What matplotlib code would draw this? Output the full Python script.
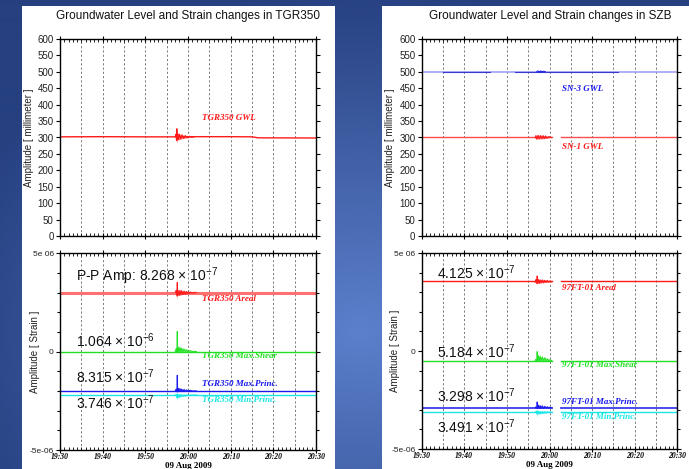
import numpy as np
import matplotlib
matplotlib.use("Agg")
import matplotlib.pyplot as plt
from matplotlib.patches import Rectangle
from matplotlib.ticker import MultipleLocator, FixedLocator, FixedFormatter

plt.rcParams["mathtext.fontset"] = "custom"
plt.rcParams["mathtext.rm"] = "Liberation Sans"
plt.rcParams["mathtext.it"] = "Liberation Sans"
plt.rcParams["mathtext.bf"] = "Liberation Sans:bold"

# ---------------- data (minutes after 19:30, 09 Aug 2009) ----------------
time_ticks = [0, 10, 20, 30, 40, 50, 60]
time_labels = ["19:30", "19:40", "19:50", "20:00", "20:10", "20:20", "20:30"]
date_label = "09 Aug 2009"

# TGR350 groundwater level (mm)
tgr_gwl_t = [0, 10, 20, 27.0, 31.5, 40, 45, 46.5, 60]
tgr_gwl_v = [302, 302.5, 302, 302, 302.5, 302.5, 302, 299, 298.5]
tgr_gwl_burst_t = [27.0, 27.15, 27.3, 27.4, 27.5, 27.65, 27.8, 28.0, 28.3, 28.6,
                   29.0, 29.4, 29.8, 30.3, 31.0, 31.5]
tgr_gwl_burst_hi = [0, 8, 12, 25, 10, 9, 11, 8, 9, 6, 6, 4, 4, 2, 1, 0]
tgr_gwl_burst_lo = [0, -8, -12, -20, -9, -8, -9, -7, -7, -5, -5, -3, -3, -2, -1, 0]

# TGR350 strain baselines and burst envelopes (units of 1e-6 strain)
tgr_burst_t = [27.0, 27.2, 27.4, 27.48, 27.55, 27.7, 27.9, 28.1, 28.3, 28.5,
               28.8, 29.1, 29.4, 29.7, 30.0, 30.5, 31.0, 31.5, 32.0]
tgr_areal_base = 3.0e-6
tgr_areal_hi = [0, 0.12, 0.2, 0.52, 0.18, 0.1, 0.15, 0.12, 0.14, 0.1,
                0.12, 0.08, 0.1, 0.06, 0.07, 0.04, 0.03, 0.02, 0]
tgr_areal_lo = [0, -0.1, -0.18, -0.33, -0.15, -0.12, -0.14, -0.1, -0.12, -0.09,
                -0.1, -0.07, -0.08, -0.05, -0.05, -0.03, -0.02, -0.01, 0]
tgr_shear_base = 0.0
tgr_shear_hi = [0, 0.15, 0.3, 1.03, 0.35, 0.22, 0.28, 0.2, 0.24, 0.17,
                0.2, 0.13, 0.14, 0.1, 0.09, 0.06, 0.04, 0.02, 0]
tgr_shear_lo = [0, -0.01, -0.02, -0.03, -0.02, -0.02, -0.02, -0.01, -0.01, -0.01,
                -0.01, -0.01, 0, 0, 0, 0, 0, 0, 0]
tgr_maxp_base = -2.0e-6
tgr_maxp_hi = [0, 0.1, 0.18, 0.8, 0.22, 0.14, 0.18, 0.12, 0.14, 0.1,
               0.11, 0.08, 0.08, 0.06, 0.05, 0.04, 0.02, 0.01, 0]
tgr_maxp_lo = [0, -0.02, -0.04, -0.03, -0.04, -0.03, -0.03, -0.02, -0.02, -0.02,
               -0.02, -0.01, -0.01, -0.01, 0, 0, 0, 0, 0]
tgr_minp_base = -2.2e-6
tgr_minp_hi = [0, 0.02, 0.04, 0.05, 0.04, 0.03, 0.03, 0.02, 0.02, 0.02,
               0.02, 0.01, 0.01, 0.01, 0, 0, 0, 0, 0]
tgr_minp_lo = [0, -0.1, -0.15, -0.32, -0.16, -0.1, -0.13, -0.09, -0.1, -0.07,
               -0.08, -0.06, -0.06, -0.04, -0.03, -0.02, -0.01, -0.01, 0]

# SZB groundwater levels (mm); records stop 20:00.5 - 20:02.7
szb_seg1 = [0, 30.5]
szb_seg2 = [32.7, 60]
sn1_level = 301
sn1_burst_t = [26.6, 26.8, 27.0, 27.3, 27.6, 27.9, 28.2, 28.5, 28.8, 29.1,
               29.4, 29.8, 30.5]
sn1_burst_hi = [2, 5, 7, 6, 6, 5, 6, 5, 5, 4, 3, 2, 1]
sn1_burst_lo = [-2, -5, -6, -6, -5, -5, -5, -5, -4, -4, -3, -2, -1]
sn3_level = 501
sn3_dark_t = [[5, 16], [22, 46]]
sn3_burst_t = [27.0, 27.3, 27.6, 27.9, 28.2, 28.5, 29.0]
sn3_burst_hi = [0, 2, 1.5, 2, 1.5, 1, 0]
sn3_burst_lo = [0, -1.5, -1.5, -1.5, -1, -1, 0]

# 97FT-01 strain baselines and burst envelopes (units of 1e-6 strain)
ft_burst_t = [26.6, 26.8, 27.0, 27.1, 27.2, 27.4, 27.6, 27.8, 28.0, 28.3,
              28.6, 28.9, 29.2, 29.5, 29.8, 30.1, 30.5]
ft_areal_base = 3.55e-6
ft_areal_hi = [0.06, 0.1, 0.14, 0.28, 0.12, 0.1, 0.12, 0.08, 0.1, 0.08,
               0.09, 0.06, 0.07, 0.05, 0.05, 0.03, 0.02]
ft_areal_lo = [-0.05, -0.08, -0.1, -0.13, -0.1, -0.09, -0.1, -0.07, -0.08, -0.07,
               -0.07, -0.05, -0.05, -0.04, -0.04, -0.03, -0.02]
ft_shear_base = -0.5e-6
ft_shear_hi = [0.02, 0.08, 0.15, 0.47, 0.22, 0.26, 0.2, 0.24, 0.18, 0.2,
               0.15, 0.16, 0.12, 0.1, 0.08, 0.06, 0.04]
ft_shear_lo = [0, -0.01, -0.02, -0.04, -0.02, -0.02, -0.02, -0.02, -0.02, -0.01,
               -0.01, -0.01, -0.01, -0.01, 0, 0, 0]
ft_maxp_base = -2.9e-6
ft_maxp_hi = [0.02, 0.05, 0.1, 0.3, 0.12, 0.14, 0.1, 0.12, 0.09, 0.1,
              0.08, 0.08, 0.06, 0.06, 0.05, 0.04, 0.03]
ft_maxp_lo = [0, -0.02, -0.02, -0.03, -0.02, -0.03, -0.02, -0.02, -0.02, -0.02,
              -0.02, -0.01, -0.01, -0.01, -0.01, 0, 0]
ft_minp_base = -3.1e-6
ft_minp_hi = [0, 0.01, 0.02, 0.05, 0.02, 0.03, 0.02, 0.02, 0.02, 0.02,
              0.01, 0.01, 0.01, 0.01, 0.01, 0, 0]
ft_minp_lo = [-0.02, -0.06, -0.1, -0.3, -0.12, -0.14, -0.1, -0.12, -0.09, -0.1,
              -0.08, -0.07, -0.06, -0.05, -0.04, -0.03, -0.03]

# ---------------- figure ----------------
W, H = 689, 469
fig = plt.figure(figsize=(W / 100, H / 100), dpi=100)

# slide-style blue gradient backdrop
bg = fig.add_axes([0, 0, 1, 1], zorder=-10)
bg.axis("off")
yy, xx = np.mgrid[0:H, 0:W]
d = np.clip(np.sqrt(((xx - 360) / 430.0) ** 2 + ((yy - 330) / 340.0) ** 2), 0, 1)
light = np.array([92, 128, 204]) / 255.0
dark = np.array([38, 64, 128]) / 255.0
bg.imshow(light + (dark - light) * d[..., None], extent=[0, 1, 0, 1], aspect="auto")
bg.set_xlim(0, 1)
bg.set_ylim(0, 1)

for x0, x1 in [(22, 335), (382, 689)]:
    fig.add_artist(Rectangle((x0 / W, 0), (x1 - x0) / W, (H - 6) / H,
                             transform=fig.transFigure, facecolor="white",
                             edgecolor="none", zorder=-5))


def frac(x0, ytop, x1, ybot):
    return [x0 / W, 1 - ybot / H, (x1 - x0) / W, (ybot - ytop) / H]


SANS = "Liberation Sans"
SERIF = "Liberation Serif"
RED, GREEN, BLUE, CYAN = "#ff1a1a", "#22e022", "#1a1aee", "#1ae6e6"


def style(ax, bottom):
    ax.set_xlim(0, 60)
    for g in range(5, 60, 5):
        ax.axvline(g, color="#7a7a7a", lw=0.7, ls=(0, (2.2, 2.2)), zorder=0)
    ax.xaxis.set_major_locator(FixedLocator(time_ticks))
    ax.xaxis.set_minor_locator(MultipleLocator(1))
    ax.tick_params(axis="x", which="major", direction="inout", length=4,
                   top=True, width=0.8)
    ax.tick_params(axis="x", which="minor", direction="in", length=2,
                   top=True, width=0.6)
    ax.tick_params(axis="y", which="both", direction="out", right=True,
                   width=0.8, length=3, labelsize=7, pad=1.5)
    ax.tick_params(axis="y", which="minor", length=2)
    for s in ax.spines.values():
        s.set_linewidth(1.0)
    if bottom:
        ax.set_xticklabels(time_labels, fontfamily=SERIF, fontstyle="italic",
                           fontweight="bold", fontsize=5.5)
        ax.tick_params(axis="x", which="major", pad=0.3)
        ax.text(0.5, -0.081, date_label, transform=ax.transAxes, ha="center",
                va="center", fontfamily=SERIF, fontweight="bold", fontsize=6.5)
    else:
        ax.set_xticklabels([])


def gwl_axes(rect, ylabel_x):
    ax = fig.add_axes(rect)
    style(ax, False)
    ax.set_ylim(0, 600)
    ax.set_yticks(np.arange(0, 601, 50))
    ax.set_yticklabels([str(v) for v in range(0, 601, 50)], fontfamily=SANS,
                       fontsize=7, color="#222222")
    ax.set_ylabel("Amplitude [ millimeter ]", fontfamily=SANS, fontsize=7,
                  color="#222222")
    ax.yaxis.set_label_coords(ylabel_x, 0.5)
    return ax


def strain_axes(rect, ylabel_x):
    ax = fig.add_axes(rect)
    style(ax, True)
    ax.set_ylim(-5e-6, 5e-6)
    ax.yaxis.set_major_locator(FixedLocator([-5e-6, 0, 5e-6]))
    ax.yaxis.set_major_formatter(FixedFormatter(["-5e-06", "0", "5e 06"]))
    ax.yaxis.set_minor_locator(MultipleLocator(1e-6))
    for lab in ax.get_yticklabels():
        lab.set_fontsize(6)
        lab.set_fontfamily(SANS)
        lab.set_color("#222222")
    ax.set_ylabel("Amplitude [ Strain ]", fontfamily=SANS, fontsize=7,
                  color="#222222")
    ax.yaxis.set_label_coords(ylabel_x, 0.5)
    return ax


def burst(ax, t, base, hi, lo, color, scale=1.0):
    """Shaded envelope plus an oscillation trace swinging between its edges."""
    t = np.asarray(t)
    up = base + np.asarray(hi) * scale
    dn = base + np.asarray(lo) * scale
    ax.fill_between(t, dn, up, color=color, lw=0, alpha=0.55, zorder=3)
    swing = np.where(np.arange(len(t)) % 2 == 0, dn, up)
    ax.plot(t, swing, color=color, lw=0.7, zorder=4)


def strain_text(ax, x, y, mant, exp):
    ax.text(x, y, f"{mant} \u00d7 10$^{{{exp}}}$", fontfamily=SANS, fontsize=10,
            ha="left", va="center", color="#111111")


def series_label(ax, x, y, s, color):
    ax.text(x, y, s, fontfamily=SERIF, fontstyle="italic", fontweight="bold",
            fontsize=6.5, color=color, ha="left", va="center")


# ---- titles ----
fig.text(188.5 / W, 1 - 16 / H, "Groundwater Level and Strain changes in TGR350",
         fontfamily=SANS, fontsize=8.5, ha="center", va="center", color="#111111")
fig.text(550 / W, 1 - 16 / H, "Groundwater Level and Strain changes in SZB",
         fontfamily=SANS, fontsize=8.5, ha="center", va="center", color="#111111")

# ---- TGR350 groundwater ----
ax1 = gwl_axes(frac(60, 39, 316, 236), -0.10)
ax1.plot(tgr_gwl_t, tgr_gwl_v, color=RED, lw=1.0, zorder=2)
burst(ax1, tgr_gwl_burst_t, 302, tgr_gwl_burst_hi, tgr_gwl_burst_lo, RED)
series_label(ax1, 33.3, 359, "TGR350 GWL", RED)

# ---- TGR350 strain ----
ax2 = strain_axes(frac(60, 253.3, 316, 450), -0.078)
ax2.plot([0, 60], [tgr_areal_base] * 2, color="#ff7070", lw=2.2, zorder=2)
ax2.plot([0, 60], [tgr_shear_base] * 2, color=GREEN, lw=1.0, zorder=2)
ax2.plot([0, 60], [tgr_maxp_base] * 2, color=BLUE, lw=1.0, zorder=2)
ax2.plot([0, 60], [tgr_minp_base] * 2, color=CYAN, lw=1.0, zorder=2)
burst(ax2, tgr_burst_t, tgr_areal_base, tgr_areal_hi, tgr_areal_lo, RED, 1e-6)
burst(ax2, tgr_burst_t, tgr_shear_base, tgr_shear_hi, tgr_shear_lo, GREEN, 1e-6)
burst(ax2, tgr_burst_t, tgr_maxp_base, tgr_maxp_hi, tgr_maxp_lo, BLUE, 1e-6)
burst(ax2, tgr_burst_t, tgr_minp_base, tgr_minp_hi, tgr_minp_lo, CYAN, 1e-6)
ax2.text(3.75, 3.84e-6, "P-P Amp: 8.268 \u00d7 10$^{-7}$", fontfamily=SANS,
         fontsize=10, ha="left", va="center", color="#111111")
strain_text(ax2, 3.75, 0.57e-6, "1.064", "-6")
strain_text(ax2, 3.75, -1.29e-6, "8.315", "-7")
strain_text(ax2, 3.75, -2.57e-6, "3.746", "-7")
series_label(ax2, 33.3, 2.7e-6, "TGR350 Areal", RED)
series_label(ax2, 33.3, -0.24e-6, "TGR350 Max.Shear", GREEN)
series_label(ax2, 33.3, -1.66e-6, "TGR350 Max.Princ.", BLUE)
series_label(ax2, 33.3, -2.47e-6, "TGR350 Min.Princ.", CYAN)

# ---- SZB groundwater ----
ax3 = gwl_axes(frac(421.7, 39, 677.3, 236), -0.104)
ax3.plot([0, 60], [sn3_level] * 2, color="#9a9af0", lw=1.1, zorder=2)
for seg in sn3_dark_t:
    ax3.plot(seg, [sn3_level] * 2, color="#3a3ad0", lw=0.8, zorder=2)
burst(ax3, sn3_burst_t, sn3_level, sn3_burst_hi, sn3_burst_lo, BLUE)
for seg in (szb_seg1, szb_seg2):
    ax3.plot(seg, [sn1_level] * 2, color="#ff4d4d", lw=1.0, zorder=2)
burst(ax3, sn1_burst_t, sn1_level, sn1_burst_hi, sn1_burst_lo, RED)
series_label(ax3, 32.9, 448, "SN-3 GWL", BLUE)
series_label(ax3, 32.9, 271, "SN-1 GWL", RED)

# ---- 97FT-01 strain ----
ax4 = strain_axes(frac(421.7, 253, 677.3, 449), -0.085)
for base, col, lw in [(ft_areal_base, RED, 1.0), (ft_shear_base, GREEN, 1.0),
                      (ft_maxp_base, "#4a4af0", 1.4), (ft_minp_base, CYAN, 1.0)]:
    for seg in (szb_seg1, szb_seg2):
        ax4.plot(seg, [base] * 2, color=col, lw=lw, zorder=2)
burst(ax4, ft_burst_t, ft_areal_base, ft_areal_hi, ft_areal_lo, RED, 1e-6)
burst(ax4, ft_burst_t, ft_shear_base, ft_shear_hi, ft_shear_lo, GREEN, 1e-6)
burst(ax4, ft_burst_t, ft_maxp_base, ft_maxp_hi, ft_maxp_lo, BLUE, 1e-6)
burst(ax4, ft_burst_t, ft_minp_base, ft_minp_hi, ft_minp_lo, CYAN, 1e-6)
strain_text(ax4, 3.5, 4.0e-6, "4.125", "-7")
strain_text(ax4, 3.5, -0.05e-6, "5.184", "-7")
strain_text(ax4, 3.5, -2.3e-6, "3.298", "-7")
strain_text(ax4, 3.5, -3.88e-6, "3.491", "-7")
series_label(ax4, 32.9, 3.21e-6, "97FT-01 Areal", RED)
series_label(ax4, 32.9, -0.69e-6, "97FT-01 Max.Shear", GREEN)
series_label(ax4, 32.9, -2.58e-6, "97FT-01 Max.Princ.", BLUE)
series_label(ax4, 32.9, -3.37e-6, "97FT-01 Min.Princ.", CYAN)

fig.savefig("out.png", dpi=100)
